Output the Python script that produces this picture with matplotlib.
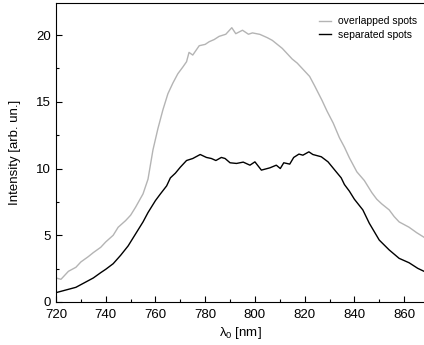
import matplotlib
matplotlib.use('Agg')
from matplotlib import pyplot as plt
from matplotlib.ticker import MultipleLocator

plt.rcParams['font.family'] = ['Liberation Sans', 'DejaVu Sans']
plt.rcParams['mathtext.fontset'] = 'custom'
plt.rcParams['mathtext.rm'] = 'Liberation Sans'
plt.rcParams['mathtext.it'] = 'Liberation Sans'

# overlapped spots (grey curve)
wl_over = [720, 722, 725, 728, 730, 733, 735, 738, 740, 743, 745, 748, 750,
           752, 755, 757, 759, 761, 763, 765, 767, 769, 771, 772.5, 773.5,
           775, 777.6, 780, 781.6, 783.6, 785.6, 788.3, 790.7, 792.3, 795,
           797.4, 799, 802, 805, 807, 809, 811, 813, 815, 817, 819, 822, 824,
           827, 829, 831.5, 834, 836, 838, 841, 844, 847, 849, 851, 854, 856,
           858, 860, 862, 865, 868]
int_over = [1.8, 1.7, 2.3, 2.6, 3.0, 3.4, 3.7, 4.1, 4.5, 5.0, 5.6, 6.1, 6.5,
            7.1, 8.1, 9.2, 11.4, 13.0, 14.4, 15.6, 16.4, 17.1, 17.6, 18.0, 18.7,
            18.5, 19.2, 19.3, 19.5, 19.66, 19.9, 20.06, 20.55, 20.1, 20.36,
            20.06, 20.16, 20.05, 19.8, 19.6, 19.3, 19.0, 18.6, 18.2, 17.9, 17.5,
            16.9, 16.2, 15.1, 14.3, 13.4, 12.3, 11.6, 10.8, 9.75, 9.1, 8.2, 7.7,
            7.35, 6.9, 6.4, 6.0, 5.8, 5.6, 5.2, 4.85]

# separated spots (black curve)
wl_sep = [720, 723, 726, 728, 731, 735, 738, 740, 743, 746, 749, 752, 755,
          757, 760, 762, 764.5, 766, 768, 770, 772.5, 775, 778, 780.5, 782.5,
          784.3, 786.5, 788, 790, 792.6, 795.3, 798, 800, 802.6, 806, 808.6,
          810.2, 811.6, 814, 815.6, 817.7, 819.3, 821.7, 823.3, 826.7, 829.4,
          832.7, 834.7, 836, 838, 840, 843.4, 846, 850, 854, 858, 862, 865.5, 868]
int_sep = [0.7, 0.85, 1.0, 1.1, 1.4, 1.8, 2.2, 2.45, 2.87, 3.5, 4.2, 5.1, 6.0,
           6.7, 7.6, 8.1, 8.7, 9.3, 9.65, 10.1, 10.6, 10.75, 11.05, 10.83, 10.75,
           10.6, 10.83, 10.75, 10.43, 10.38, 10.48, 10.25, 10.5, 9.88, 10.05,
           10.25, 10.0, 10.43, 10.33, 10.83, 11.08, 11.0, 11.25, 11.05, 10.88,
           10.5, 9.75, 9.3, 8.8, 8.3, 7.7, 6.9, 5.9, 4.64, 3.9, 3.27, 2.94, 2.52, 2.3]

fig = plt.figure(figsize=(4.24, 3.45), dpi=100)
ax = fig.add_axes([56 / 424, 43 / 345, 368 / 424, 299 / 345])

ax.plot(wl_over, int_over, c='#b4b4b4', lw=1.0, label='overlapped spots')
ax.plot(wl_sep, int_sep, c='black', lw=1.0, label='separated spots')

ax.set_xlim(720, 868)
ax.set_ylim(0, 22.4)
ax.xaxis.set_major_locator(MultipleLocator(20))
ax.xaxis.set_minor_locator(MultipleLocator(10))
ax.yaxis.set_major_locator(MultipleLocator(5))
ax.yaxis.set_minor_locator(MultipleLocator(2.5))
ax.tick_params(axis='both', which='both', direction='in', labelsize=9.5,
               top=False, right=False)
ax.tick_params(axis='x', which='major', pad=5)
ax.tick_params(which='major', length=4, width=0.8)
ax.tick_params(which='minor', length=2.5, width=0.8)
ax.spines['right'].set_visible(False)

ax.set_xlabel(r'$\mathregular{\lambda_0}$ [nm]', fontsize=9.5, labelpad=3)
ax.set_ylabel('Intensity [arb. un.]', fontsize=9.5, labelpad=11)

ax.legend(loc='upper right', frameon=False, fontsize=7.5, handlelength=1.2,
          handletextpad=0.6, labelspacing=0.35, borderaxespad=0.3,
          bbox_to_anchor=(1.0, 0.98))

fig.savefig('out.png', dpi=100)
